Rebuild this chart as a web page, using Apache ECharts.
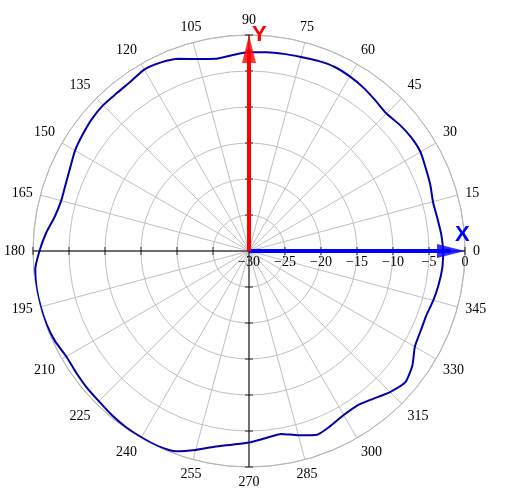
<!DOCTYPE html>
<html>
<head>
<meta charset="utf-8">
<script src="https://cdn.jsdelivr.net/npm/echarts@6/dist/echarts.min.js"></script>
<style>html,body{margin:0;padding:0;background:#fff}#c{width:505px;height:497px}</style>
</head>
<body>
<div id="c"></div>
<script>
// Pattern angles (deg) and gain values (dB)
const angles = [0,5,10,15,20,25,30,35,40,45,50,55,60,65,70,75,80,85,90,95,100,105,110,115,120,125,130,135,140,145,150,155,160,165,170,175,180,185,190,195,200,205,210,215,220,225,230,235,240,245,250,255,260,265,270,275,280,285,290,295,300,305,310,315,320,325,330,335,340,345,350,355,360];
const gains = [-3.0,-3.2,-3.45,-3.55,-3.2,-2.9,-2.5,-2.5,-2.7,-3.0,-2.7,-2.3,-2.0,-1.8,-1.9,-2.1,-2.2,-2.3,-2.4,-2.7,-2.9,-2.4,-1.6,-1.1,-0.9,-1.3,-1.4,-1.35,-1.5,-1.8,-2.1,-2.6,-2.9,-3.0,-2.6,-1.7,-0.9,-0.2,-0.05,-0.05,-0.1,-0.3,-0.7,-0.65,-0.55,-0.5,-0.3,-0.15,-0.1,-0.1,-0.4,-1.4,-2.4,-3.0,-3.4,-3.9,-4.2,-3.5,-2.8,-3.2,-3.7,-3.8,-3.2,-2.3,-1.65,-2.3,-3.4,-3.7,-3.8,-3.5,-3.25,-3.05,-3.0];
const radiusTicks = [-30,-25,-20,-15,-10,-5,0];
const angleTickStep = 15;
const rMin = -30, rMax = 0;

const SERIF = '"Liberation Serif","DejaVu Serif",serif';
const patternData = angles.map((a,i)=>[gains[i], a]);

const hTicks = [], vTicks = [];
radiusTicks.filter(r=>r>rMin).forEach(r=>{
  hTicks.push([r,0]); hTicks.push([r,180]);
  vTicks.push([r,90]); vTicks.push([r,270]);
});

const chart = echarts.init(document.getElementById('c'), null, {renderer:'canvas'});
chart.setOption({
  animation:false,
  backgroundColor:'#fff',
  polar:{center:[249,251], radius:216},
  angleAxis:{
    type:'value', min:0, max:360, interval:angleTickStep, startAngle:0, clockwise:false,
    axisLine:{lineStyle:{color:'#b4b4b4', width:1}},
    axisTick:{show:false},
    splitLine:{lineStyle:{color:'#c0c0c0', width:1}},
    axisLabel:{fontFamily:SERIF, fontSize:14, color:'#000', margin:8,
      formatter:v=> v===360 ? '' : String(v)}
  },
  radiusAxis:{
    type:'value', min:rMin, max:rMax, interval:5,
    axisLine:{show:false}, axisTick:{show:false},
    splitLine:{lineStyle:{color:'#c0c0c0', width:1}},
    axisLabel:{show:false}
  },
  series:[
    {type:'line', coordinateSystem:'polar', data:[[rMax,0],[rMin,0],[rMin,180],[rMax,180]],
     showSymbol:false, lineStyle:{color:'#000', width:1}, silent:true, z:3},
    {type:'line', coordinateSystem:'polar', data:[[rMax,90],[rMin,90],[rMin,270],[rMax,270]],
     showSymbol:false, lineStyle:{color:'#000', width:1}, silent:true, z:3},
    {type:'scatter', coordinateSystem:'polar', data:hTicks, symbol:'rect', symbolSize:[1,8],
     itemStyle:{color:'#000'}, silent:true, z:3},
    {type:'scatter', coordinateSystem:'polar', data:vTicks, symbol:'rect', symbolSize:[8,1],
     itemStyle:{color:'#000'}, silent:true, z:3},
    {type:'line', coordinateSystem:'polar', data:patternData, showSymbol:false, smooth:0.2,
     lineStyle:{color:'#0000a8', width:2}, silent:true, z:4},
    // X arrow
    {type:'line', coordinateSystem:'polar', data:[[rMin,0],[-2,0]], showSymbol:false,
     lineStyle:{color:'#0000ff', width:4}, silent:true, z:5},
    {type:'scatter', coordinateSystem:'polar', data:[[rMax,0]], symbol:'triangle', symbolSize:[14,28],
     symbolRotate:-90, symbolOffset:[-14,0], itemStyle:{color:'#0000ff'}, silent:true, z:5},
    // Y arrow
    {type:'line', coordinateSystem:'polar', data:[[rMin,90],[-2,90]], showSymbol:false,
     lineStyle:{color:'#ff0000', width:4}, silent:true, z:6},
    {type:'scatter', coordinateSystem:'polar', data:[[rMax,90]], symbol:'triangle', symbolSize:[14,28],
     symbolOffset:[0,14], itemStyle:{color:'#ff0000'}, silent:true, z:6}
  ]
});

// Radius tick labels placed below the horizontal axis, positioned through the polar scale
const labelGraphics = radiusTicks.map(r=>{
  const p = chart.convertToPixel({seriesIndex:0}, [r, 0]);
  return {type:'text', x:p[0], y:p[1]+4, z:10, silent:true,
    style:{text:String(r).replace('-','\u2212'), fill:'#000', font:'14px '+SERIF,
      align:'center', verticalAlign:'top'}};
});
chart.setOption({graphic:[
  {type:'text', left:252, top:24, z:10, style:{text:'Y', fill:'#ff0000', font:'bold 22px "Liberation Sans",Arial,sans-serif'}},
  {type:'text', left:455, top:224, z:10, style:{text:'X', fill:'#0000ff', font:'bold 22px "Liberation Sans",Arial,sans-serif'}}
].concat(labelGraphics)});
</script>
</body>
</html>
